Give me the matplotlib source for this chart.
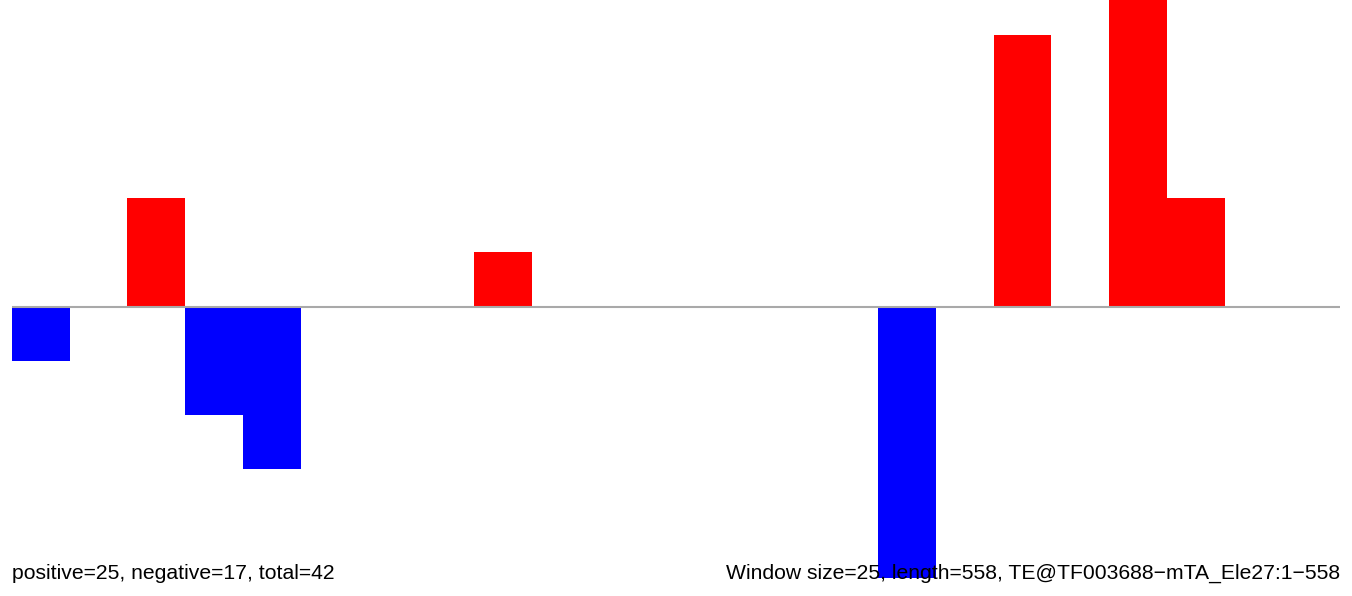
import numpy as np
import matplotlib
matplotlib.use('Agg')
import matplotlib.pyplot as plt

plt.rcParams['font.family'] = ['Liberation Sans', 'DejaVu Sans']

# windowed counts (positive up / negative down), one per 25bp window
window_counts = [-1, 0, 2, -2, -3, 0, 0, 0, 1, 0, 0, 0, 0, 0, 0,
                 -5, 0, 5, 0, 6, 2, 0, 0]
left_label = 'positive=25, negative=17, total=42'
right_label = 'Window size=25, length=558, TE@TF003688\u2212mTA_Ele27:1\u2212558'

W, H = 1352, 596
fig = plt.figure(figsize=(W / 100, H / 100), dpi=100)
ax = fig.add_axes([12 / W, 0, 1328 / W, 1])

vals = np.array(window_counts)
x = np.arange(len(vals))
colors = ['red' if v > 0 else 'blue' for v in vals]
ax.bar(x, vals, width=1.0, align='edge', color=colors, linewidth=0)
ax.axhline(0, color='#a9a9a9', lw=1.5, zorder=3)

ax.set_xlim(0, len(vals))
ax.set_ylim(-289.5 / 54.3, 306.5 / 54.3)
ax.axis('off')

fig.text(12 / W, 1 - 579 / H, left_label, fontsize=15.2, ha='left', va='baseline')
fig.text(1340 / W, 1 - 579 / H, right_label, fontsize=15.2, ha='right', va='baseline')

fig.savefig('out.png', dpi=100)
